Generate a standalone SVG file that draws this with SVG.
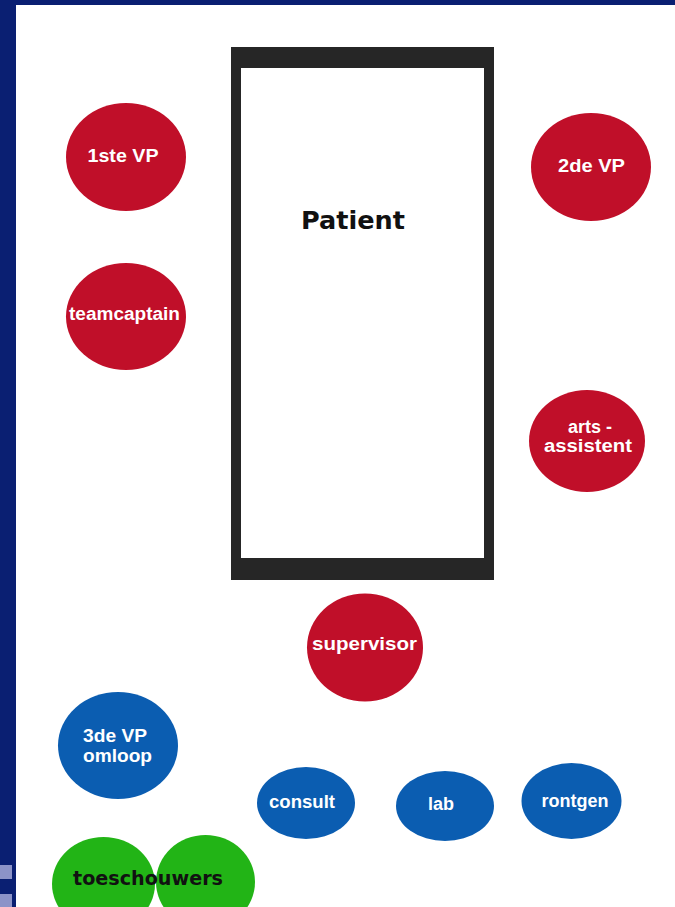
<svg xmlns="http://www.w3.org/2000/svg" width="675" height="907" viewBox="0 0 675 907">
  <style>
    .red { fill: #c00f29; }
    .blue { fill: #0b5db1; }
    .green { fill: #22b416; }
    .lbl { font-family: "Liberation Sans", Arial, sans-serif; font-weight: bold; font-size: 18px; fill: #ffffff; text-anchor: middle; }
    .lbl-l { font-family: "Liberation Sans", Arial, sans-serif; font-weight: bold; font-size: 18px; fill: #ffffff; }
    .comic { font-family: "DejaVu Sans", sans-serif; font-weight: bold; fill: #111111; }
  </style>
  <!-- background -->
  <rect x="0" y="0" width="675" height="907" fill="#0a1f72"/>
  <rect x="16" y="5" width="659" height="902" fill="#ffffff"/>
  <rect x="0" y="865" width="12" height="14" fill="#8c93c8"/>
  <rect x="0" y="894" width="12" height="13" fill="#8c93c8"/>

  <g id="patient">
    <rect x="231" y="47" width="263" height="533" fill="#262626"/>
    <rect x="241" y="68" width="243" height="490" fill="#ffffff"/>
    <text class="comic" x="353" y="229" font-size="24" text-anchor="middle" textLength="104" lengthAdjust="spacingAndGlyphs">Patient</text>
  </g>

  <g id="vp1">
    <ellipse class="red" cx="126" cy="157" rx="60" ry="54"/>
    <text class="lbl" x="123" y="162" textLength="71" lengthAdjust="spacingAndGlyphs">1ste VP</text>
  </g>
  <g id="teamcaptain">
    <ellipse class="red" cx="126" cy="316.5" rx="60" ry="53.5"/>
    <text class="lbl" x="124.5" y="320" textLength="111" lengthAdjust="spacingAndGlyphs">teamcaptain</text>
  </g>
  <g id="vp2">
    <ellipse class="red" cx="591" cy="167" rx="60" ry="54"/>
    <text class="lbl" x="591.5" y="172" textLength="67" lengthAdjust="spacingAndGlyphs">2de VP</text>
  </g>
  <g id="arts-assistent">
    <ellipse class="red" cx="587" cy="441" rx="58" ry="51"/>
    <text class="lbl" x="590" y="433">arts -</text>
    <text class="lbl" x="588" y="452" textLength="88" lengthAdjust="spacingAndGlyphs">assistent</text>
  </g>
  <g id="supervisor">
    <ellipse class="red" cx="365" cy="647.5" rx="58" ry="54"/>
    <text class="lbl" x="364.5" y="650" textLength="105" lengthAdjust="spacingAndGlyphs">supervisor</text>
  </g>

  <g id="vp3">
    <ellipse class="blue" cx="118" cy="745.5" rx="60" ry="53.5"/>
    <text class="lbl-l" x="83" y="742" textLength="64" lengthAdjust="spacingAndGlyphs">3de VP</text>
    <text class="lbl-l" x="83" y="762" textLength="69" lengthAdjust="spacingAndGlyphs">omloop</text>
  </g>
  <g id="consult">
    <ellipse class="blue" cx="306" cy="803" rx="49" ry="36"/>
    <text class="lbl" x="302" y="808" textLength="66" lengthAdjust="spacingAndGlyphs">consult</text>
  </g>
  <g id="lab">
    <ellipse class="blue" cx="445" cy="806" rx="49" ry="35"/>
    <text class="lbl" x="441" y="810" font-size="19">lab</text>
  </g>
  <g id="rontgen">
    <ellipse class="blue" cx="571.5" cy="801" rx="50" ry="38"/>
    <text class="lbl" x="575" y="807" font-size="17">rontgen</text>
  </g>

  <g id="toeschouwers">
    <ellipse class="green" cx="103.5" cy="884" rx="51.5" ry="47"/>
    <ellipse class="green" cx="205.5" cy="882" rx="49.5" ry="47"/>
    <text class="comic" x="148" y="885" font-size="19" text-anchor="middle" textLength="150" lengthAdjust="spacingAndGlyphs">toeschouwers</text>
  </g>

  <g id="connectors"></g>
</svg>
